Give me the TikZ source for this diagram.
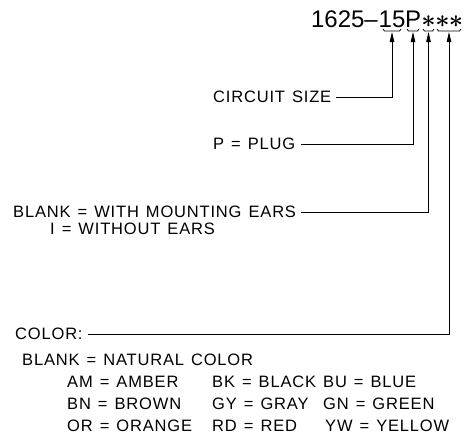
\documentclass[tikz,border=0pt]{standalone}
\usepackage{fontspec}
\setmainfont{Liberation Sans}[LetterSpace=5,WordSpace=1.3]
\newfontfamily\titlefont{Liberation Sans}
\usetikzlibrary{arrows.meta}
\begin{document}
\begin{tikzpicture}[x=1pt,y=-1pt,
  lbl/.style={font=\fontsize{16.5}{19}\selectfont, inner sep=0pt, anchor=west},
  ttl/.style={font=\titlefont\fontsize{24}{28}\selectfont, inner sep=0pt},
  star/.style={font=\fontsize{24}{28}\selectfont\boldmath, inner sep=0pt},
  conn/.style={line width=0.8pt, -{Triangle[length=10pt,width=4.5pt]}},
  brace/.style={line width=0.8pt}]
\useasboundingbox (0,0) rectangle (466,442);
% title
\node[ttl, anchor=base east] (num) at (378,27.5) {1625–};
\node[ttl, anchor=base] (d15) at (392,27.5) {15};
\node[ttl, anchor=base] (dP) at (413,27.5) {P};
\node[star, anchor=base] (a1) at (428.5,27.5) {$\ast$};
\node[star, anchor=base] (a2) at (442.5,27.5) {$\ast$};
\node[star, anchor=base] (a3) at (456,27.5) {$\ast$};
% braces
\draw[brace] (383,29) -- (384.5,31) -- (399.5,31) -- (401,29);
\draw[brace] (407,29) -- (408.5,31) -- (417.5,31) -- (419,29);
\draw[brace] (423,29) -- (424.5,31) -- (432.5,31) -- (434,29);
\draw[brace] (437,29) -- (438.5,31) -- (459.5,31) -- (461,29);
\coordinate (t15) at (392,32);
\coordinate (tP) at (413,32);
\coordinate (tA) at (428.5,32);
\coordinate (tC) at (449,32);
% labels
\node[lbl] (circ) at (213,97) {CIRCUIT SIZE};
\node[lbl] (plug) at (213,144) {P = PLUG};
\node[lbl] (ears) at (13,212) {BLANK = WITH MOUNTING EARS};
\node[lbl] (noears) at (50,229) {I = WITHOUT EARS};
\node[lbl] (color) at (15,334) {COLOR:};
\node[lbl] (nat) at (22,360) {BLANK = NATURAL COLOR};
\node[lbl] (am) at (67,382) {AM = AMBER};
\node[lbl] (bk) at (212,382) {BK = BLACK};
\node[lbl] (bu) at (323,382) {BU = BLUE};
\node[lbl] (bn) at (67,404) {BN = BROWN};
\node[lbl] (gy) at (212,404) {GY = GRAY};
\node[lbl] (gn) at (323,404) {GN = GREEN};
\node[lbl] (or) at (67,426) {OR = ORANGE};
\node[lbl] (rd) at (212,426) {RD = RED};
\node[lbl] (yw) at (325,426) {YW = YELLOW};
% connectors
\draw[conn] ([xshift=5pt]circ.east) -| (t15);
\draw[conn] ([xshift=5pt]plug.east) -| (tP);
\draw[conn] ([xshift=5pt]ears.east) -| (tA);
\draw[conn] ([xshift=5pt]color.east) -| (tC);
\end{tikzpicture}
\end{document}
